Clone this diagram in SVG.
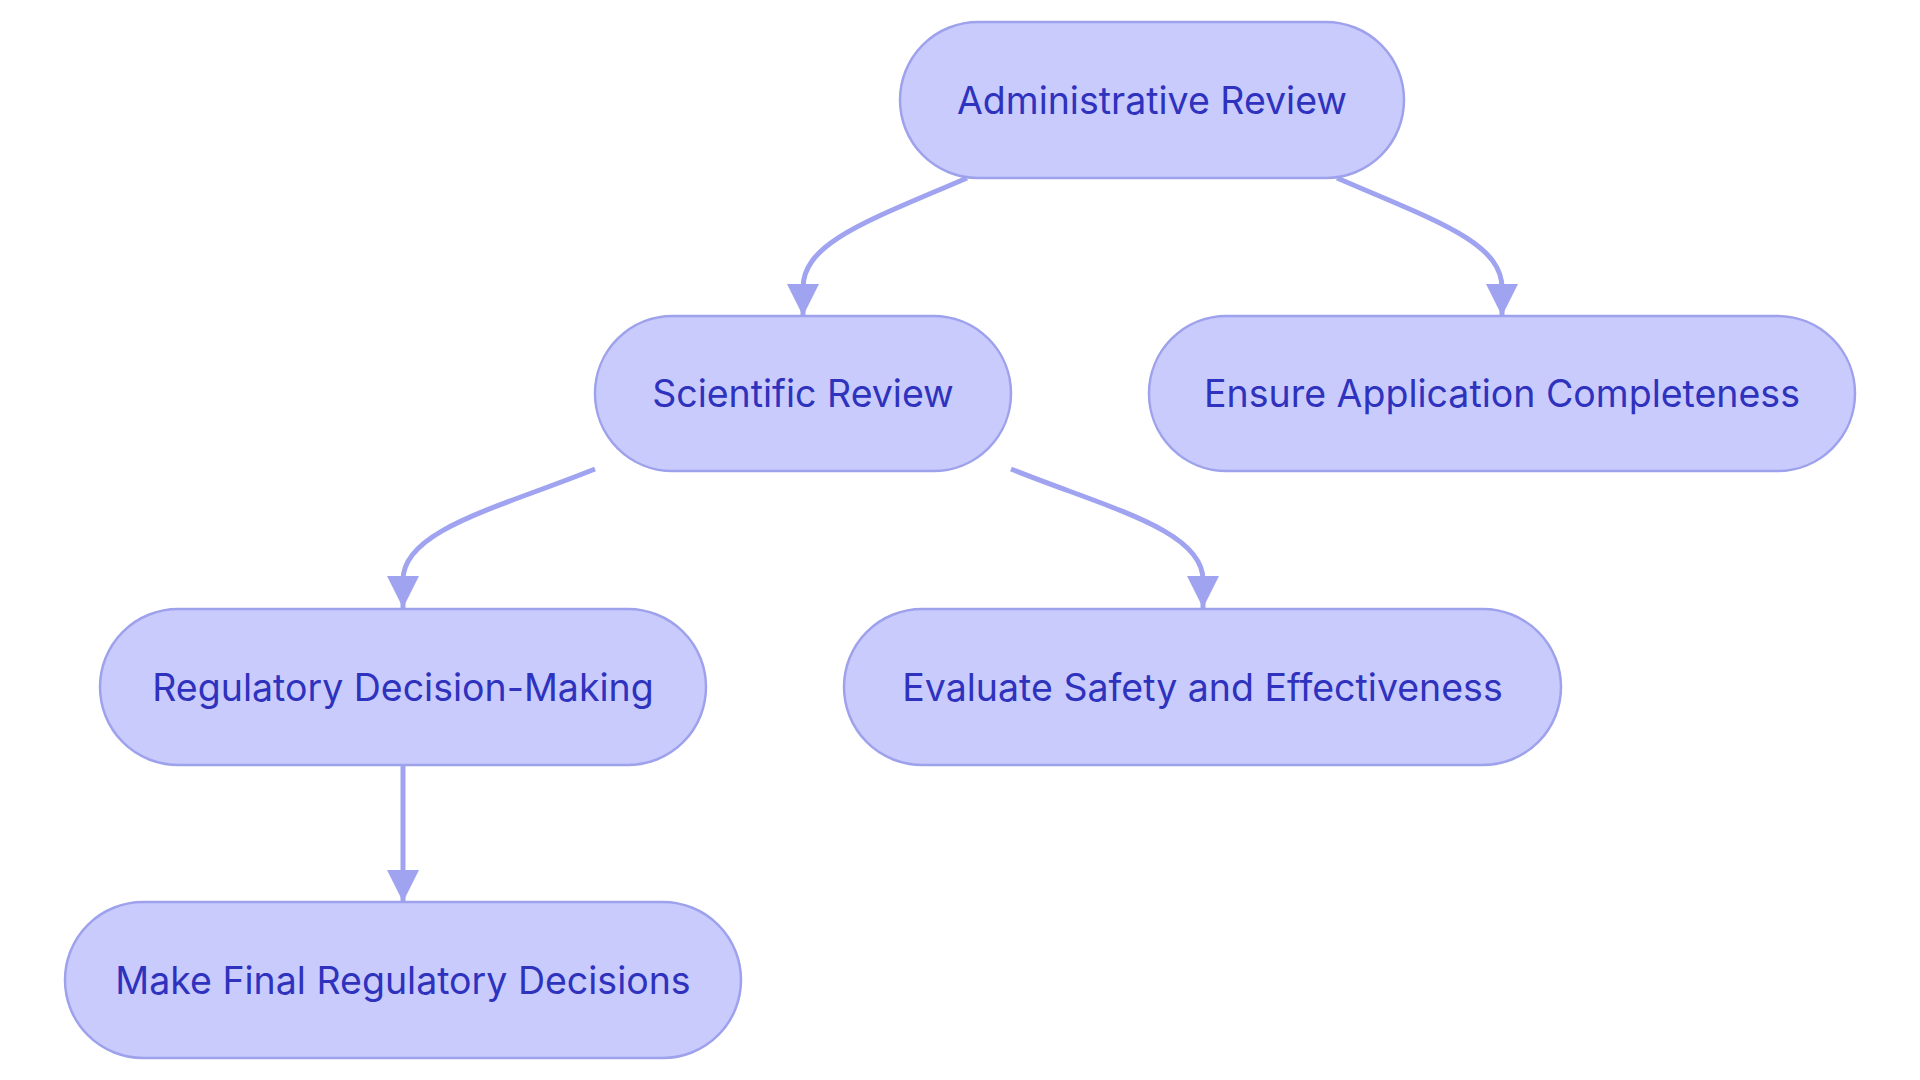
<svg xmlns="http://www.w3.org/2000/svg" width="1920" height="1080" viewBox="0 0 1920 1080">
<style>
.node rect{fill:#c9cbfd;stroke:#9ea2ec;stroke-width:2.5}
.node text{font-family:Inter,"Noto Sans",sans-serif;font-size:37.5px;fill:#2e32bd;text-anchor:middle;dominant-baseline:central}
.edge{fill:none;stroke:#a0a4f0;stroke-width:5}
</style>
<defs>
<marker id="arr" viewBox="0 0 10 10" refX="10" refY="5" markerUnits="userSpaceOnUse" markerWidth="34" markerHeight="32" orient="auto">
<path d="M0,0 L10,5 L0,10 z" fill="#a0a4f0"/>
</marker>
</defs>
<rect width="1920" height="1080" fill="#ffffff"/>
<g id="connectors">
<path class="edge" d="M967,178 C870,220 803,242 803,288 L803,316" marker-end="url(#arr)"/>
<path class="edge" d="M1337,178 C1434,220 1502,242 1502,288 L1502,316" marker-end="url(#arr)"/>
<path class="edge" d="M595,469 C498,508 403,530 403,580 L403,608" marker-end="url(#arr)"/>
<path class="edge" d="M1011,469 C1108,508 1203,530 1203,580 L1203,608" marker-end="url(#arr)"/>
<path class="edge" d="M403,765 L403,902" marker-end="url(#arr)"/>
</g>
<g id="n-admin" class="node"><rect x="900" y="22" width="504" height="156" rx="78"/><text x="1152" y="100">Administrative Review</text></g>
<g id="n-sci" class="node"><rect x="595" y="316" width="416" height="155" rx="77.5"/><text x="803" y="393">Scientific Review</text></g>
<g id="n-ensure" class="node"><rect x="1149" y="316" width="706" height="155" rx="77.5"/><text x="1502" y="393">Ensure Application Completeness</text></g>
<g id="n-reg" class="node"><rect x="100" y="609" width="606" height="156" rx="78"/><text x="403" y="687">Regulatory Decision-Making</text></g>
<g id="n-eval" class="node"><rect x="844" y="609" width="717" height="156" rx="78"/><text x="1202.5" y="687">Evaluate Safety and Effectiveness</text></g>
<g id="n-final" class="node"><rect x="65" y="902" width="676" height="156" rx="78"/><text x="403" y="980">Make Final Regulatory Decisions</text></g>
</svg>
